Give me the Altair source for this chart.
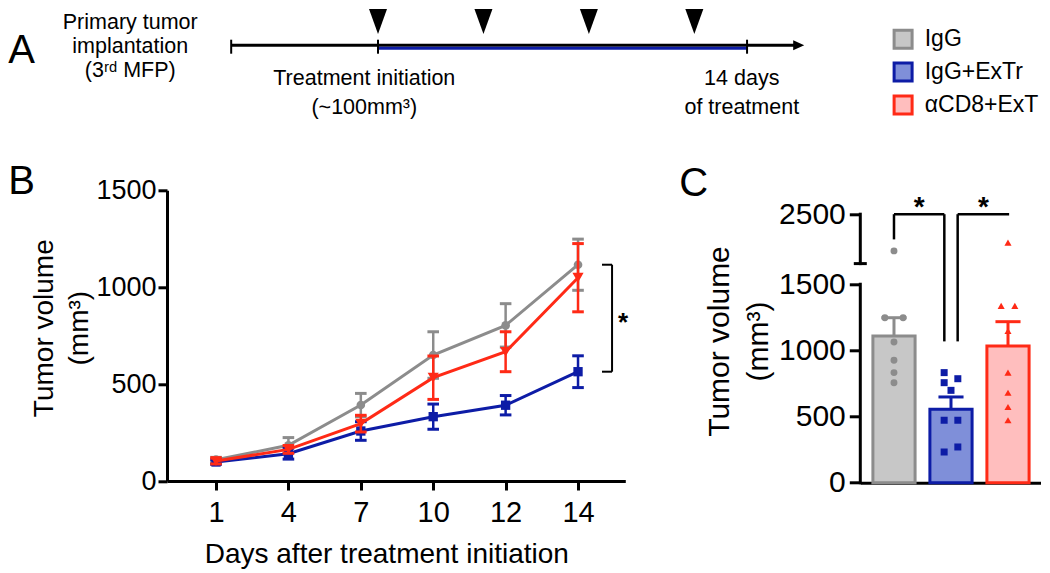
import json
import altair as alt
import pandas as pd

FONT = "Liberation Sans"

# ---------------- data ----------------
GROUPS = ["IgG", "IgG+ExTr", "αCD8+ExT"]

# Panel A: schedule, in days relative to treatment initiation
IMPLANT_DAY = -5.57
TREAT_START_DAY = 0
TREAT_END_DAY = 14
ARROW_END_DAY = 15.96
DOSE_DAYS = [0, 4, 8, 12]
A_TEXT = ["Primary tumor", "implantation", "(3ʳᵈ MFP)",
          "Treatment initiation", "(~100mm³)", "14 days", "of treatment"]

# Panel B: tumor growth (mean ± SEM)
DAYS = ["1", "4", "7", "10", "12", "14"]
MEAN_IGG = [110, 184, 392, 650, 803, 1116]
SEM_IGG = [12, 40, 60, 120, 112, 132]
MEAN_EXTR = [98, 141, 258, 332, 391, 564]
SEM_EXTR = [12, 28, 48, 65, 50, 82]
MEAN_CD8 = [103, 163, 296, 533, 667, 1049]
SEM_CD8 = [15, 20, 43, 112, 103, 176]

# Panel C: final tumor volume (mean + SEM and individual mice)
BAR_MEAN = [1109, 555, 1033]
BAR_SEM = [138, 93, 184]
PTS_IGG = [1757, 1247, 1247, 1063, 925, 832, 756]
PTS_EXTR = [832, 786, 756, 698, 472, 472, 270, 232]
PTS_CD8 = [1925, 1336, 1336, 1147, 832, 680, 572, 472]

# ---------------- styles / layout ----------------
LINE_COLORS = ["#8c8c8c", "#0d1ca6", "#ff2a16"]
FILL_COLORS = ["#c7c7c7", "#7f8fd9", "#ffbebe"]
B_SHAPES = ["circle", "square", "triangle-down"]
B_SIZES = [75, 87, 125]
C_SHAPES = ["circle", "square", "triangle-up"]
C_SIZES = [48, 50, 62]
JIT_IGG = [0, -0.16, 0.16, 0, 0, 0, 0]
JIT_EXTR = [-0.12, 0.12, -0.12, 0, -0.12, 0.12, 0.12, -0.12]
JIT_CD8 = [0, -0.12, 0.12, 0, 0, 0, 0, 0]

AXIS_STYLE = dict(domainColor="black", domainWidth=3, tickColor="black", tickWidth=3,
                  labelColor="black", labelFont=FONT, titleFont=FONT, titleColor="black",
                  titleFontWeight="normal", grid=False, labelFlush=False, labelOverlap=False)


def sc(domain):
    return alt.Scale(domain=domain, nice=False, zero=False)


def df(**cols):
    return pd.DataFrame(cols)


# ================= Panel A =================
A_W, A_H = 868.3, 120
XA = sc([-8.005, 24.935])
YA = sc([-81.3, 38.7])


def xa(f):
    return alt.X(f, type="quantitative", scale=XA, axis=None)


def ya(f):
    return alt.Y(f, type="quantitative", scale=YA, axis=None)


a_black = alt.Chart(df(d=[IMPLANT_DAY], d2=[ARROW_END_DAY], y=[2.5])).mark_rule(
    color="black", strokeWidth=3).encode(x=xa("d"), x2="d2", y=ya("y"))
a_blue = alt.Chart(df(d=[TREAT_START_DAY], d2=[TREAT_END_DAY], y=[-0.5])).mark_rule(
    color=LINE_COLORS[1], strokeWidth=3).encode(x=xa("d"), x2="d2", y=ya("y"))
a_ticks = alt.Chart(df(d=[IMPLANT_DAY, TREAT_START_DAY, TREAT_END_DAY],
                       y=[-6.0] * 3, y2=[8.0] * 3)).mark_rule(
    color="black", strokeWidth=2).encode(x=xa("d"), y=ya("y"), y2="y2")
a_arrow = alt.Chart(df(d=[ARROW_END_DAY], y=[2.5])).mark_point(
    shape="M-1,-0.9L1,0L-1,0.9Z", size=121, filled=True, color="black", opacity=1
).encode(x=xa("d"), y=ya("y"))
a_doses = alt.Chart(df(d=DOSE_DAYS, y=[26.2] * len(DOSE_DAYS))).mark_point(
    shape="M-0.72,-1L0.72,-1L0,1Z", size=625, filled=True, color="black", opacity=1
).encode(x=xa("d"), y=ya("y"))
a_label = alt.Chart(df(t=["A"], d=[-14.025], y=[-15.0])).mark_text(
    align="left", baseline="alphabetic", fontSize=40, font=FONT, color="black"
).encode(x=xa("d"), y=ya("y"), text="t:N")
a_texts = alt.Chart(df(t=A_TEXT,
                       d=[-9.40, -9.40, -9.40, -0.52, -0.52, 13.8, 13.8],
                       y=[25.0, 0.5, -23.0, -31.3, -59.8, -31.3, -59.8])).mark_text(
    align="center", baseline="middle", fontSize=21.5, font=FONT, color="black"
).encode(x=xa("d"), y=ya("y"), text="t:N")
leg_df = df(g=GROUPS, d=[19.92] * 3, dt=[20.74] * 3, y=[8.4, -24.3, -57.3])
a_leg_sq = alt.Chart(leg_df).mark_square(size=324, strokeWidth=3, opacity=1).encode(
    x=xa("d"), y=ya("y"),
    fill=alt.Fill("g:N", scale=alt.Scale(domain=GROUPS, range=FILL_COLORS), legend=None),
    stroke=alt.Stroke("g:N", scale=alt.Scale(domain=GROUPS, range=LINE_COLORS), legend=None))
a_leg_tx = alt.Chart(leg_df).mark_text(
    align="left", baseline="middle", fontSize=23, font=FONT, color="black"
).encode(x=xa("dt"), y=ya("y"), text="g:N")

panel_a = alt.layer(a_black, a_blue, a_ticks, a_arrow, a_doses, a_label, a_texts,
                    a_leg_sq, a_leg_tx).properties(width=A_W, height=A_H)

# ================= Panel B =================
B_W, B_H = 458.3, 290.7
XB = sc([-0.677, 5.653])
YB = alt.Scale(domain=[0, 1500], nice=False)
XB_AXIS = alt.Axis(values=list(range(len(DAYS))), labelExpr=json.dumps(DAYS) + "[datum.value]",
                   title="Days after treatment initiation", tickSize=9, labelFontSize=29,
                   labelPadding=8, titleFontSize=28, titleX=219.3, titleY=81.7,
                   titleBaseline="alphabetic", titleAlign="center", **AXIS_STYLE)
YB_AXIS = alt.Axis(values=[0, 500, 1000, 1500], format="d", title=["Tumor volume", "(mm³)"],
                   tickSize=9, labelFontSize=27, labelPadding=2, titleFontSize=28,
                   titleAngle=270, titleX=-115, titleY=137.4, titleBaseline="alphabetic",
                   titleAlign="center", titleLineHeight=35, **AXIS_STYLE)


def xb(f):
    return alt.X(f, type="quantitative", scale=XB, axis=XB_AXIS)


def yb(f):
    return alt.Y(f, type="quantitative", scale=YB, axis=YB_AXIS)


b_layers = []
series = [(MEAN_IGG, SEM_IGG), (MEAN_EXTR, SEM_EXTR), (MEAN_CD8, SEM_CD8)]
for k, (mean, sem) in enumerate(series):
    base = alt.Chart(df(i=list(range(len(DAYS))), m=mean, s=sem)).transform_calculate(
        lo="datum.m - datum.s", hi="datum.m + datum.s",
        c1="datum.i - 0.08", c2="datum.i + 0.08")
    col = LINE_COLORS[k]
    b_layers += [
        base.mark_rule(color=col, strokeWidth=2.5).encode(x=xb("i"), y=yb("lo"), y2="hi"),
        base.mark_rule(color=col, strokeWidth=3).encode(x=xb("c1"), x2="c2", y=yb("lo")),
        base.mark_rule(color=col, strokeWidth=3).encode(x=xb("c1"), x2="c2", y=yb("hi")),
        base.mark_line(color=col, strokeWidth=3).encode(x=xb("i"), y=yb("m")),
        base.mark_point(shape=B_SHAPES[k], size=B_SIZES[k], filled=True, color=col,
                        opacity=1).encode(x=xb("i"), y=yb("m")),
    ]

b_top, b_bot = MEAN_IGG[-1], MEAN_EXTR[-1]
b_br = alt.Chart(df(x=[5.47, 5.331, 5.331], x2=[5.47, 5.47, 5.47],
                    y=[b_bot, b_top, b_bot], y2=[b_top, b_top, b_bot])).mark_rule(
    color="black", strokeWidth=2).encode(x=xb("x"), x2="x2", y=yb("y"), y2="y2")
b_star = alt.Chart(df(t=["*"], x=[5.622], y=[(b_top + b_bot) / 2])).mark_text(
    fontSize=26, fontWeight="bold", font=FONT, color="black", baseline="middle", dy=5
).encode(x=xb("x"), y=yb("y"), text="t:N")
b_label = alt.Chart(df(t=["B"], x=[-2.869], y=[1500])).mark_text(
    align="left", baseline="alphabetic", fontSize=40, font=FONT, color="black", dy=4
).encode(x=xb("x"), y=yb("y"), text="t:N")

panel_b = alt.layer(*b_layers, b_br, b_star, b_label).properties(width=B_W, height=B_H)

# ================= Panel C =================
C_W, C_H = 180.7, 292.4
C_XMIN = -0.591
XC = sc([C_XMIN, 2.579])
YC = alt.Scale(domain=[0, 2210], nice=False)
BREAK, GAP, K = 1500, 156, 0.3734
TOP_VAL = 2500
TOP_DISP = BREAK + GAP + (TOP_VAL - BREAK) * K


def disp(f):
    return f"datum.{f} <= {BREAK} ? datum.{f} : {BREAK + GAP} + (datum.{f} - {BREAK}) * {K}"


YC_AXIS = alt.Axis(values=[0, 500, 1000, 1500, TOP_DISP], domain=False,
                   labelExpr=f"datum.value <= {BREAK} ? format(datum.value, 'd') : "
                             f"format(round({BREAK} + (datum.value - {BREAK + GAP}) / {K}), 'd')",
                   title=["Tumor volume", "(mm³)"], tickSize=11, labelFontSize=30,
                   labelPadding=4, titleFontSize=30, titleAngle=270, titleX=-132,
                   titleY=150.7, titleBaseline="alphabetic", titleAlign="center",
                   titleLineHeight=39, **AXIS_STYLE)
XC_AXIS = alt.Axis(ticks=False, labels=False, title=None, **AXIS_STYLE)


def xc(f):
    return alt.X(f, type="quantitative", scale=XC, axis=XC_AXIS)


def yc(f):
    return alt.Y(f, type="quantitative", scale=YC, axis=YC_AXIS)


c_axis = alt.Chart(df(x=[C_XMIN, C_XMIN], y=[0, BREAK + GAP], y2=[BREAK, TOP_DISP])).mark_rule(
    color="black", strokeWidth=3, strokeCap="square").encode(x=xc("x"), y=yc("y"), y2="y2")
c_break = alt.Chart(df(x=[C_XMIN - 0.114], x2=[C_XMIN + 0.114], y=[BREAK + GAP])).mark_rule(
    color="black", strokeWidth=3).encode(x=xc("x"), x2="x2", y=yc("y"))

bars = alt.Chart(df(i=[0, 1, 2], g=GROUPS, m=BAR_MEAN, s=BAR_SEM)).transform_calculate(
    x1="datum.i - 0.37", x2="datum.i + 0.37", h="datum.m + datum.s",
    c1="datum.i - 0.22", c2="datum.i + 0.22", z="0"
).transform_calculate(md=disp("m"), hd=disp("h"))
fill_enc = alt.Fill("g:N", scale=alt.Scale(domain=GROUPS, range=FILL_COLORS), legend=None)
stroke_enc = alt.Stroke("g:N", scale=alt.Scale(domain=GROUPS, range=LINE_COLORS), legend=None)
c_bars = bars.mark_rect(strokeWidth=3).encode(x=xc("x1"), x2="x2", y=yc("md"), y2="z",
                                              fill=fill_enc, stroke=stroke_enc)
c_err = bars.mark_rule(strokeWidth=3).encode(x=xc("i"), y=yc("md"), y2="hd", stroke=stroke_enc)
c_cap = bars.mark_rule(strokeWidth=3).encode(x=xc("c1"), x2="c2", y=yc("hd"), stroke=stroke_enc)

pt_rows = []
for k, (vals, jit) in enumerate([(PTS_IGG, JIT_IGG), (PTS_EXTR, JIT_EXTR), (PTS_CD8, JIT_CD8)]):
    for v, j in zip(vals, jit):
        pt_rows.append({"g": GROUPS[k], "x": k + j, "v": v})
c_pts = alt.Chart(pd.DataFrame(pt_rows)).transform_calculate(vd=disp("v")).mark_point(
    filled=True, opacity=1).encode(
    x=xc("x"), y=yc("vd"),
    shape=alt.Shape("g:N", scale=alt.Scale(domain=GROUPS, range=C_SHAPES), legend=None),
    color=alt.Color("g:N", scale=alt.Scale(domain=GROUPS, range=LINE_COLORS), legend=None),
    size=alt.Size("g:N", scale=alt.Scale(domain=GROUPS, range=C_SIZES), legend=None))

# significance brackets: (left x, right x, legs [(x, bottom value)])
C_BRACKETS = [(0.0, 0.883, [(0.0, 1990), (0.883, 1068)]),
              (1.117, 2.02, [(1.117, 1068)])]
seg_rows, star_rows = [], []
for x1, x2, legs in C_BRACKETS:
    seg_rows.append({"x": x1, "x2": x2, "y": TOP_VAL, "y2": TOP_VAL})
    for lx, lb in legs:
        seg_rows.append({"x": lx, "x2": lx, "y": lb, "y2": TOP_VAL})
    star_rows.append({"t": "*", "x": (x1 + x2) / 2, "y": TOP_VAL})
c_br = alt.Chart(pd.DataFrame(seg_rows)).transform_calculate(yd=disp("y"), yd2=disp("y2")).mark_rule(
    color="black", strokeWidth=2.5).encode(x=xc("x"), x2="x2", y=yc("yd"), y2="yd2")
c_star = alt.Chart(pd.DataFrame(star_rows)).transform_calculate(yd=disp("y")).mark_text(
    fontSize=28, fontWeight="bold", font=FONT, color="black", baseline="middle", dy=-6
).encode(x=xc("x"), y=yc("yd"), text="t:N")
c_label = alt.Chart(df(t=["C"], x=[-3.767], y=[2210])).mark_text(
    align="left", baseline="alphabetic", fontSize=40, font=FONT, color="black", dy=5.7
).encode(x=xc("x"), y=yc("y"), text="t:N")

panel_c = alt.layer(c_bars, c_pts, c_err, c_cap, c_axis, c_break, c_br, c_star,
                    c_label).properties(width=C_W, height=C_H)

chart = alt.vconcat(
    panel_a,
    alt.hconcat(panel_b, panel_c, spacing=234.3, bounds="flush"),
    spacing=61.3, bounds="flush",
).properties(padding=0).configure(font=FONT).configure_view(stroke="transparent", strokeWidth=0)

chart.save("out.html", embed_options={"renderer": "svg", "actions": False})
